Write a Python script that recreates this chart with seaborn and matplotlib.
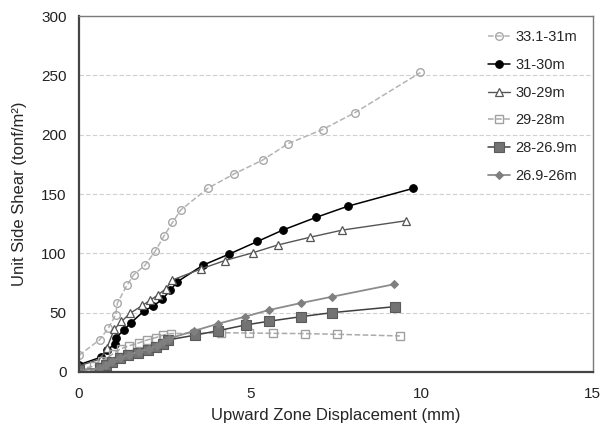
import numpy as np
import pandas as pd
import matplotlib
matplotlib.use('Agg')
import matplotlib.pyplot as plt
import seaborn as sns

sns.set_style("white")
plt.rcParams['font.family'] = ['Liberation Sans', 'DejaVu Sans']

# data (displacement mm, unit side shear tonf/m2)
x_331_31 = [0, 0.6, 0.86, 1.07, 1.12, 1.4, 1.6, 1.93, 2.23, 2.49, 2.73, 2.97, 3.77, 4.53, 5.36, 6.11, 7.11, 8.05, 9.97]
y_331_31 = [14, 27, 37, 48, 58, 73, 82, 90, 102, 115, 126, 136.5, 155, 167, 178.6, 192.6, 204.4, 218.5, 252.5]

x_31_30 = [0, 0.64, 0.81, 1.05, 1.07, 1.31, 1.52, 1.9, 2.17, 2.43, 2.67, 2.87, 3.62, 4.39, 5.21, 5.95, 6.92, 7.86, 9.76]
y_31_30 = [6, 12.4, 18.5, 23.3, 28.4, 35.4, 41.5, 51.4, 55.6, 61.2, 69, 76, 90, 99.4, 110, 119.6, 130.3, 139.8, 154.8]

x_30_29 = [0, 0.63, 0.81, 1.03, 1.24, 1.49, 1.85, 2.08, 2.31, 2.53, 2.73, 3.55, 4.25, 5.08, 5.8, 6.74, 7.69, 9.56]
y_30_29 = [5, 11, 20, 36, 42.5, 49.4, 56, 60.5, 65, 70, 77.5, 86.7, 93.8, 100.5, 107, 113.5, 119.6, 127.5]

x_29_28 = [0, 0.45, 0.66, 0.98, 1.22, 1.46, 1.75, 2.0, 2.25, 2.45, 2.68, 3.4, 4.16, 4.95, 5.66, 6.6, 7.54, 9.37]
y_29_28 = [2, 5, 9, 15, 19.5, 22, 24.5, 27, 29, 31, 32.3, 32.5, 33, 32.8, 32.5, 32.3, 31.7, 30.3]

x_28_269 = [0, 0.6, 0.79, 0.95, 1.2, 1.44, 1.73, 2.02, 2.25, 2.44, 2.61, 3.39, 4.07, 4.87, 5.54, 6.49, 7.4, 9.22]
y_28_269 = [1.7, 3, 6, 8.7, 11.5, 14.3, 16.3, 18.5, 21.3, 23.6, 27, 31, 34.8, 39.6, 42.7, 46.6, 50, 55]

x_269_26 = [0, 0.6, 0.8, 0.95, 1.2, 1.45, 1.75, 2.03, 2.27, 2.46, 2.63, 3.35, 4.07, 4.85, 5.55, 6.47, 7.39, 9.2]
y_269_26 = [1, 3, 5.5, 9, 12, 14.5, 17, 19.5, 22, 25, 28, 34.5, 40.7, 46.6, 52.2, 58, 63.4, 73.9]

series = [
    ('33.1-31m', x_331_31, y_331_31, dict(color='#b4b4b4', ls='--', lw=1.1, marker='o', ms=5.5, mfc='none', mec='#a8a8a8', mew=1.0)),
    ('31-30m', x_31_30, y_31_30, dict(color='#000000', ls='-', lw=1.1, marker='o', ms=5.5, mfc='#000000', mec='#000000')),
    ('30-29m', x_30_29, y_30_29, dict(color='#555555', ls='-', lw=1.0, marker='^', ms=6, mfc='white', mec='#555555', mew=0.9)),
    ('29-28m', x_29_28, y_29_28, dict(color='#aaaaaa', ls='--', lw=1.1, marker='s', ms=5.5, mfc='none', mec='#a0a0a0', mew=1.0)),
    ('28-26.9m', x_28_269, y_28_269, dict(color='#404040', ls='-', lw=1.1, marker='s', ms=6.5, mfc='#737373', mec='#5a5a5a', mew=0.8)),
    ('26.9-26m', x_269_26, y_269_26, dict(color='#8c8c8c', ls='-', lw=1.3, marker='D', ms=4, mfc='#7f7f7f', mec='#7f7f7f')),
]

fig = plt.figure(figsize=(6.03, 4.37), dpi=100)
ax = fig.add_axes([0.131, 0.149, 0.852, 0.814])

for name, xs, ys, kw in series:
    df = pd.DataFrame({'x': xs, 'y': ys})
    sns.lineplot(data=df, x='x', y='y', ax=ax, sort=False, estimator=None,
                 label=name, **kw)

ax.set_xlim(0, 15)
ax.set_ylim(0, 300)
ax.set_xticks([0, 5, 10, 15])
ax.set_yticks(np.arange(0, 301, 50))
ax.yaxis.grid(True, color='#d0d0d0', ls=(0, (4, 2)), lw=0.8)
ax.set_axisbelow(True)
ax.tick_params(length=0, labelsize=11, colors='#222222')
ax.tick_params(axis='x', pad=11)
ax.tick_params(axis='y', pad=9)

for s in ['top', 'right']:
    ax.spines[s].set_color('#7a7a7a')
    ax.spines[s].set_linewidth(1.0)
for s in ['left', 'bottom']:
    ax.spines[s].set_color('#444444')
    ax.spines[s].set_linewidth(1.6)

ax.set_xlabel('Upward Zone Displacement (mm)', fontsize=12, labelpad=5)
ax.set_ylabel('Unit Side Shear (tonf/m²)', fontsize=12, labelpad=10)

ax.legend(loc='upper right', frameon=False, fontsize=10.5, handlelength=1.5,
          labelspacing=0.95, handletextpad=0.4, borderaxespad=0.3,
          bbox_to_anchor=(0.99, 0.99))

plt.savefig('out.png', dpi=100)
print("Figure save: out.png")
